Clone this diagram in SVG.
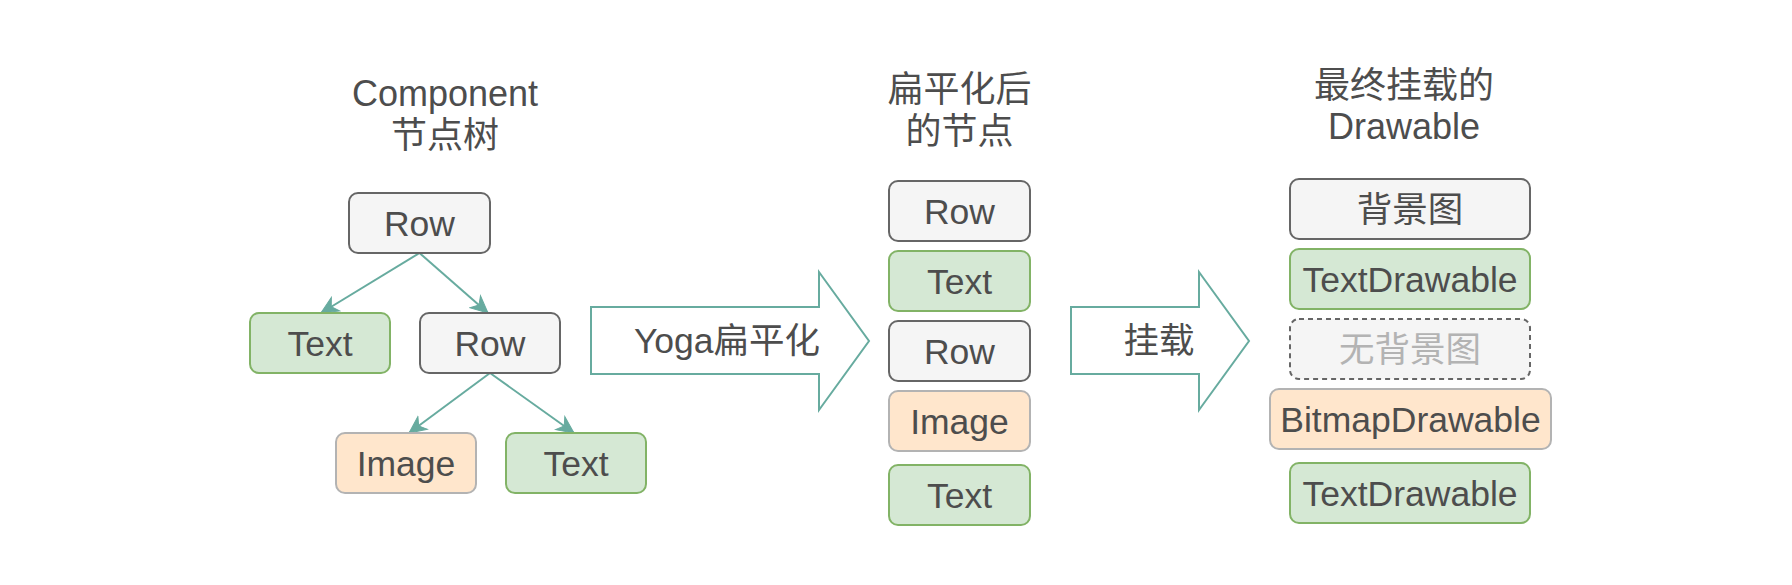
<svg xmlns="http://www.w3.org/2000/svg" width="1792" height="585" viewBox="0 0 1792 585">
<style>
text{font-family:"Liberation Sans","Noto Sans CJK SC",Arial,sans-serif;fill:#4d4d4d;text-anchor:middle}
.t{font-size:36px}
.l{font-size:35.5px}
.gray{fill:#f5f5f5;stroke:#666666;stroke-width:2}
.green{fill:#d5e8d4;stroke:#82b366;stroke-width:2}
.orange{fill:#ffe6cc;stroke:#b3b3b3;stroke-width:2}
.dash{fill:#f5f5f5;stroke:#666666;stroke-width:2;stroke-dasharray:5 4}
.faint{fill:#b3b3b3}
.edge{stroke:#67ab9f;stroke-width:2;fill:none;marker-end:url(#ah)}
.big{fill:#ffffff;stroke:#67ab9f;stroke-width:2}
</style>
<defs>
<marker id="ah" markerUnits="userSpaceOnUse" viewBox="-18 -10 20 20" markerWidth="20" markerHeight="20" refX="0" refY="0" orient="auto">
<path d="M0,0 L-17,-8 L-12,0 L-17,8 Z" fill="#67ab9f" stroke="#67ab9f" stroke-width="1"/>
</marker>
</defs>
<rect width="1792" height="585" fill="#ffffff"/>

<g id="titles">
<text class="t" x="445" y="106">Component</text>
<text class="t" x="445" y="148">节点树</text>
<text class="t" x="959.5" y="102">扁平化后</text>
<text class="t" x="959.5" y="144">的节点</text>
<text class="t" x="1404" y="98">最终挂载的</text>
<text class="t" x="1404" y="139">Drawable</text>
</g>

<g id="connectors">
<line class="edge" x1="419.5" y1="253" x2="321" y2="313"/>
<line class="edge" x1="419.5" y1="253" x2="488" y2="313"/>
<line class="edge" x1="490" y1="373" x2="409" y2="433"/>
<line class="edge" x1="490" y1="373" x2="574" y2="433"/>
</g>

<g id="tree-row1"><rect class="gray" x="349" y="193" width="141" height="60" rx="9"/><text class="l" x="419.5" y="236">Row</text></g>
<g id="tree-text1"><rect class="green" x="250" y="313" width="140" height="60" rx="9"/><text class="l" x="320" y="356">Text</text></g>
<g id="tree-row2"><rect class="gray" x="420" y="313" width="140" height="60" rx="9"/><text class="l" x="490" y="356">Row</text></g>
<g id="tree-image"><rect class="orange" x="336" y="433" width="140" height="60" rx="9"/><text class="l" x="406" y="476">Image</text></g>
<g id="tree-text2"><rect class="green" x="506" y="433" width="140" height="60" rx="9"/><text class="l" x="576" y="476">Text</text></g>

<g id="arrow-yoga">
<polygon class="big" points="591,307 819,307 819,272 869,341 819,410 819,374 591,374"/>
<text class="l" x="727" y="353">Yoga扁平化</text>
</g>

<g id="flat-row1"><rect class="gray" x="889" y="181" width="141" height="60" rx="9"/><text class="l" x="959.5" y="224">Row</text></g>
<g id="flat-text1"><rect class="green" x="889" y="251" width="141" height="60" rx="9"/><text class="l" x="959.5" y="294">Text</text></g>
<g id="flat-row2"><rect class="gray" x="889" y="321" width="141" height="60" rx="9"/><text class="l" x="959.5" y="364">Row</text></g>
<g id="flat-image"><rect class="orange" x="889" y="391" width="141" height="60" rx="9"/><text class="l" x="959.5" y="434">Image</text></g>
<g id="flat-text2"><rect class="green" x="889" y="465" width="141" height="60" rx="9"/><text class="l" x="959.5" y="508">Text</text></g>

<g id="arrow-mount">
<polygon class="big" points="1071,307 1199,307 1199,272 1249,341 1199,410 1199,374 1071,374"/>
<text class="l" x="1159" y="353">挂载</text>
</g>

<g id="d-bg"><rect class="gray" x="1290" y="179" width="240" height="60" rx="9"/><text class="l" x="1410" y="222">背景图</text></g>
<g id="d-text1"><rect class="green" x="1290" y="249" width="240" height="60" rx="9"/><text class="l" x="1410" y="292">TextDrawable</text></g>
<g id="d-nobg"><rect class="dash" x="1290" y="319" width="240" height="60" rx="9"/><text class="l faint" x="1410" y="362">无背景图</text></g>
<g id="d-bitmap"><rect class="orange" x="1270" y="389" width="281" height="60" rx="9"/><text class="l" x="1410.5" y="432">BitmapDrawable</text></g>
<g id="d-text2"><rect class="green" x="1290" y="463" width="240" height="60" rx="9"/><text class="l" x="1410" y="506">TextDrawable</text></g>
</svg>
